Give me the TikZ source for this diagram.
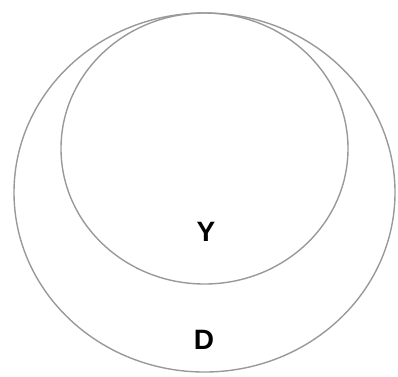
\documentclass[tikz,border=0pt]{standalone}
\usepackage{fontspec}
\setmainfont{Liberation Sans}
\usepackage{tikz}
\usetikzlibrary{shapes.geometric}
\definecolor{vnLine}{HTML}{999999}

\begin{document}
\begin{tikzpicture}[x=1pt,y=-1pt,
  region/.style={ellipse,draw=vnLine,line width=1.4pt,inner sep=0pt,outer sep=0pt},
  lbl/.style={font=\fontsize{28}{30}\selectfont\bfseries,inner sep=0pt}
]
\useasboundingbox (0,0) rectangle (398,376);
\node[region,minimum width=381pt,minimum height=359pt] (outer) at (204.5,192.5) {};
\node[region,minimum width=287pt,minimum height=271pt] (inner) at (204.5,148.5) {};
\node[lbl] (ylbl) at (206,232) {Y};
\node[lbl] (dlbl) at (204,340) {D};
\end{tikzpicture}
\end{document}
